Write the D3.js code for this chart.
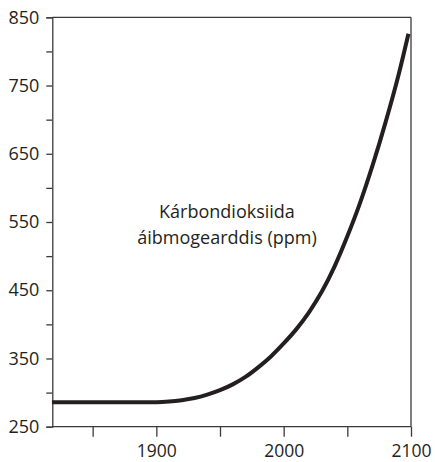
<!DOCTYPE html>
<html>
<head>
<meta charset="utf-8">
<script src="https://cdn.jsdelivr.net/npm/d3@7"></script>
<style>
  html, body { margin: 0; padding: 0; background: #fff; }
  svg { display: block; }
  text { font-family: "Open Sans", "Noto Sans", sans-serif; fill: #231f20; }
</style>
</head>
<body>
<svg id="chart" width="435" height="462"></svg>
<script>
const years = [1818, 1900, 1910, 1920, 1930, 1940, 1950, 1960, 1970, 1980, 1990, 2000, 2010, 2020, 2030, 2040, 2050, 2060, 2070, 2080, 2090, 2098];
const ppm   = [286, 286, 286.8, 288.8, 292, 297, 303.5, 312, 323, 337, 353, 372, 393, 418, 448, 485, 529, 578, 634, 696, 764, 826];
const yMajorTicks = [250, 350, 450, 550, 650, 750, 850];
const yMinorTicks = [300, 400, 500, 600, 700, 800];
const xMajorTicks = [1900, 2000, 2100];
const xMinorTicks = [1850, 1950, 2050];
const labelLines = ["Kárbondioksiida", "áibmogearddis (ppm)"];

const svg = d3.select("#chart");
const m = {left: 52.3, right: 411, top: 17.3, bottom: 426.7};
const x = d3.scaleLinear().domain([1818.3, 2100]).range([m.left, m.right]);
const y = d3.scaleLinear().domain([250, 850]).range([m.bottom, m.top]);
const axisColor = "#3a3a3a";

// box top and right
svg.append("line").attr("x1", m.left).attr("x2", m.right).attr("y1", m.top).attr("y2", m.top)
  .attr("stroke", axisColor).attr("stroke-width", 1.3);
svg.append("line").attr("x1", m.right).attr("x2", m.right).attr("y1", m.top).attr("y2", m.bottom)
  .attr("stroke", axisColor).attr("stroke-width", 1.3);

// Y axis
const yAx = svg.append("g").attr("transform", `translate(${m.left},0)`)
  .call(d3.axisLeft(y).tickValues(yMajorTicks.concat(yMinorTicks)).tickSize(6).tickPadding(7)
    .tickFormat(d => yMajorTicks.includes(d) ? d : ""));
yAx.select(".domain").attr("stroke", axisColor).attr("stroke-width", 1.3);
yAx.selectAll(".tick line").attr("stroke", axisColor).attr("stroke-width", 1.3);
yAx.selectAll(".tick text").style("font-size", "18px").attr("fill", "#231f20")
  .style("font-family", "'Open Sans', sans-serif");

// X axis
const xAx = svg.append("g").attr("transform", `translate(0,${m.bottom})`)
  .call(d3.axisBottom(x).tickValues(xMajorTicks.concat(xMinorTicks)).tickSize(10).tickPadding(8)
    .tickFormat(d => xMajorTicks.includes(d) ? d : ""));
xAx.select(".domain").attr("stroke", axisColor).attr("stroke-width", 1.3)
  .attr("d", `M${m.left},0H${m.right}`);
xAx.selectAll(".tick line").attr("stroke", axisColor).attr("stroke-width", 1.3);
xAx.selectAll(".tick text").style("font-size", "17.5px").attr("fill", "#231f20")
  .style("font-family", "'Open Sans', sans-serif");

// Curve
const data = years.map((yr, i) => ({yr, v: ppm[i]}));
svg.append("path").datum(data)
  .attr("fill", "none").attr("stroke", "#231f20").attr("stroke-width", 4)
  .attr("stroke-linejoin", "round")
  .attr("d", d3.line().x(d => x(d.yr)).y(d => y(d.v)).curve(d3.curveMonotoneX));

// Label
const t = svg.append("text").attr("text-anchor", "middle").style("font-size", "18px");
t.selectAll("tspan").data(labelLines).join("tspan")
  .attr("x", 227).attr("y", (d, i) => 218 + i * 26).text(d => d);
</script>
</body>
</html>
